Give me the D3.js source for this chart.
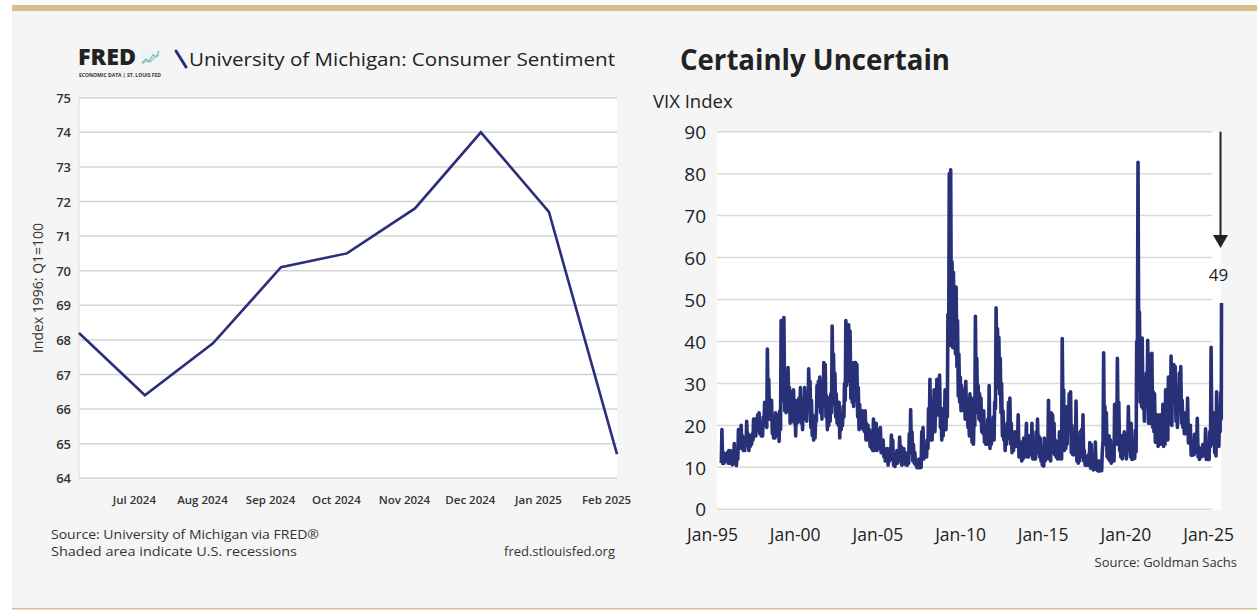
<!DOCTYPE html>
<html><head><meta charset="utf-8">
<script src="https://cdn.jsdelivr.net/npm/d3@7"></script>
<style>
body{margin:0;background:#fff;}
svg{display:block;font-family:'Open Sans',sans-serif;}
</style></head>
<body><svg id="c" width="1257" height="611"></svg>
<script>
// ---------- Left chart data (FRED: UMich Consumer Sentiment) ----------
const umMonths = ["2024-06","2024-07","2024-08","2024-09","2024-10","2024-11","2024-12","2025-01","2025-02"];
const umValues = [68.2, 66.4, 67.9, 70.1, 70.5, 71.8, 74.0, 71.7, 64.7];
const umYTicks = [64,65,66,67,68,69,70,71,72,73,74,75];
const umXTickLabels = ["Jul 2024","Aug 2024","Sep 2024","Oct 2024","Nov 2024","Dec 2024","Jan 2025","Feb 2025"];

// ---------- Right chart data (VIX, monthly high / low closes, Jan-1995 .. Apr-2025) ----------
const vixHigh = [
 19.0,13.5,13.2,12.8,13.5,14.0,14.0,13.8,13.9,15.7,13.5,13.0, // 1995
 19.0,18.5,20.0,17.5,16.0,16.5,21.0,18.0,17.5,17.0,18.0,21.5, // 1996
 21.5,21.0,22.5,23.0,20.5,20.5,22.0,25.5,24.0,38.2,31.0,25.5, // 1997
 26.0,21.0,19.5,23.0,21.5,22.5,23.5,45.0,44.5,45.7,30.0,28.5, // 1998
 33.8,29.0,27.5,28.0,28.5,26.0,23.5,26.0,26.5,29.0,25.0,26.0, // 1999
 29.0,26.5,26.5,33.5,30.5,26.0,22.5,21.0,21.5,29.5,30.5,31.5, // 2000
 29.5,30.5,35.0,34.5,27.0,24.5,26.5,27.5,43.7,37.0,32.5,27.5, // 2001
 25.0,25.5,22.0,22.0,24.5,30.0,45.0,40.0,44.0,42.5,35.0,33.5, // 2002
 35.0,35.0,34.5,29.0,25.0,23.0,23.5,22.5,23.5,20.5,20.0,19.0, // 2003
 18.5,17.5,21.5,17.5,20.5,16.5,19.0,19.5,15.5,16.5,14.5,14.0, // 2004
 14.5,12.5,14.5,17.7,16.5,12.5,11.5,14.0,13.0,17.2,15.0,12.5, // 2005
 14.5,13.5,12.5,12.5,18.0,23.8,18.5,15.5,13.5,11.5,11.5,12.0, // 2006
 12.0,18.5,19.5,14.5,14.0,16.5,24.0,31.0,26.0,22.5,28.5,23.0, // 2007
 31.0,28.5,32.0,24.0,20.0,24.0,28.5,24.5,46.5,80.0,80.9,59.0, // 2008
 56.5,52.5,53.0,45.0,37.0,31.5,29.5,28.5,27.0,30.5,26.5,23.0, // 2009
 27.5,26.5,18.0,22.5,46.0,36.0,29.5,27.5,26.5,23.5,23.5,18.5, // 2010
 20.0,21.5,29.5,17.5,18.5,22.0,25.5,48.0,43.0,41.0,36.0,30.0, // 2011
 23.5,19.5,17.5,20.5,25.5,26.5,20.5,18.5,17.5,18.5,18.0,22.5, // 2012
 14.5,16.0,14.5,17.0,16.5,20.5,16.0,17.5,17.5,20.5,13.5,16.0, // 2013
 18.5,21.5,17.5,17.0,13.5,12.5,17.0,16.5,16.5,26.0,14.0,23.0, // 2014
 22.5,20.5,16.5,16.0,14.5,18.5,17.0,40.7,28.5,24.5,20.5,24.5, // 2015
 27.5,28.0,20.0,16.0,16.0,25.8,16.5,14.0,18.5,19.0,22.5,14.0, // 2016
 12.5,12.0,13.0,15.9,15.5,11.5,11.5,16.0,11.5,11.5,11.5,11.5, // 2017
 13.5,37.3,24.5,23.0,16.0,17.5,16.5,14.5,13.5,25.0,21.5,36.0, // 2018
 25.5,16.5,17.5,13.5,18.5,18.0,16.0,24.5,18.0,20.5,13.0,16.0, // 2019
 18.8,40.0,82.7,47.0,35.0,40.8,30.5,26.5,32.5,40.3,37.0,25.0, // 2020
 37.2,28.0,27.5,20.0,22.5,18.5,22.5,21.5,25.0,21.0,28.5,27.0, // 2021
 31.5,30.5,36.5,33.5,34.5,34.0,28.0,26.0,32.5,34.0,26.0,23.0, // 2022
 23.0,22.5,26.5,19.5,20.0,15.5,15.0,17.9,18.0,21.7,15.0,13.5, // 2023
 14.5,15.5,13.5,19.2,13.5,13.0,18.5,38.6,20.5,23.0,21.0,28.0, // 2024
 22.0,21.0,27.9,49.2                                          // 2025
];
const vixLow = [
 11.0,10.9,11.0,11.5,11.6,11.0,11.0,11.2,10.6,11.8,10.9,10.4, // 1995
 12.0,14.5,16.0,14.5,14.0,14.0,15.5,15.5,14.0,15.0,15.5,16.5, // 1996
 18.0,17.5,19.0,20.0,18.0,17.5,17.5,20.0,20.5,19.5,23.0,21.5, // 1997
 21.5,18.0,17.0,17.0,17.5,19.5,16.2,19.0,28.5,26.0,23.5,23.0, // 1998
 24.0,23.5,20.5,21.0,21.5,20.5,17.5,20.5,21.5,21.0,20.5,19.0, // 1999
 21.5,22.5,21.0,24.0,24.0,19.5,17.6,16.5,17.0,21.0,25.0,24.5, // 2000
 23.0,21.5,26.0,24.5,22.0,19.0,20.0,21.0,23.0,29.0,25.0,22.0, // 2001
 20.5,20.0,17.0,19.0,20.0,22.0,26.0,29.5,31.0,30.5,26.5,25.5, // 2002
 24.5,29.0,26.0,22.0,19.0,19.5,19.5,19.0,18.5,16.5,16.5,16.5, // 2003
 15.0,14.5,14.0,14.0,15.0,14.0,14.5,14.5,13.5,14.0,12.5,11.5, // 2004
 11.5,10.5,11.5,12.0,12.5,10.5,10.2,11.5,11.0,12.5,11.5,10.5, // 2005
 10.8,11.0,10.6,10.5,11.0,14.5,13.5,11.5,11.0,10.6,9.9,10.0,  // 2006
 9.9,10.0,12.5,12.0,12.5,12.5,14.5,19.5,16.5,16.5,18.5,18.5,  // 2007
 22.5,22.5,23.5,19.5,16.5,17.5,22.0,19.0,22.0,39.0,47.5,39.0, // 2008
 38.5,39.5,37.0,34.0,27.0,25.5,23.5,24.5,23.5,21.5,21.5,19.5, // 2009
 17.5,19.5,16.0,15.5,20.0,26.0,23.0,21.5,21.0,18.5,18.0,16.0, // 2010
 15.5,15.5,16.5,14.5,15.5,16.5,16.5,24.0,31.0,29.0,27.5,23.0, // 2011
 17.5,16.5,14.0,15.5,17.5,17.0,15.5,13.5,14.0,15.0,15.0,15.5, // 2012
 12.5,12.5,11.5,12.0,12.5,15.5,12.5,12.5,13.5,13.0,12.0,12.0, // 2013
 12.0,13.5,14.0,12.5,11.5,10.5,10.3,11.5,12.0,14.0,12.0,11.5, // 2014
 16.0,13.5,13.0,12.5,12.0,12.5,12.0,12.0,20.5,14.0,14.5,15.5, // 2015
 18.5,19.0,13.5,13.0,13.0,13.5,11.5,11.0,11.5,12.5,12.5,11.5, // 2016
 10.5,10.5,11.0,10.5,9.8,9.8,9.4,10.0,9.5,9.2,9.1,9.2,        // 2017
 9.2,16.5,15.5,15.5,12.5,12.0,11.5,11.0,11.5,11.5,16.5,15.5,  // 2018
 16.5,14.0,12.5,12.0,13.0,14.0,12.0,16.0,14.0,12.5,11.9,12.0, // 2019
 12.1,13.7,39.0,31.0,25.5,24.5,24.0,21.0,25.0,25.5,20.5,20.5, // 2020
 21.0,19.5,18.5,16.0,16.5,15.0,16.0,15.5,16.0,15.0,15.5,16.5, // 2021
 16.5,21.5,20.5,20.0,25.5,25.5,21.0,19.5,23.5,25.0,20.5,19.5, // 2022
 18.0,18.0,18.5,15.8,16.0,12.9,12.9,13.0,13.5,15.5,12.5,11.9, // 2023
 12.4,12.8,12.7,13.5,11.9,11.9,11.9,15.0,15.5,18.0,13.5,12.7, // 2024
 15.0,15.0,18.5,21.5                                          // 2025
];
const vixYTicks = [0,10,20,30,40,50,60,70,80,90];
const vixXTickYears = [1995,2000,2005,2010,2015,2020,2025];
const vixLastLabel = "49";

// ---------- drawing ----------
const svg = d3.select("#c");
const GOLD = "#d6be88", BG = "#f5f5f5", NAVY = "#283078", INK = "#222";

svg.append("rect").attr("x",12).attr("y",5).attr("width",1245).attr("height",603).attr("fill",BG);
svg.append("rect").attr("x",12).attr("y",5).attr("width",1245).attr("height",6).attr("fill",GOLD);
svg.append("rect").attr("x",12).attr("y",608).attr("width",1245).attr("height",1.5).attr("fill",GOLD);

// ===== Left: FRED =====
const L = {x0:79, x1:617, y0:97.7, y1:478.3};
const parseM = d3.timeParse("%Y-%m");
const umData = umMonths.map((m,i)=>({d:parseM(m), v:umValues[i]}));
const lx = d3.scaleTime().domain(d3.extent(umData,d=>d.d)).range([L.x0,L.x1]);
const ly = d3.scaleLinear().domain([64,75]).range([L.y1,L.y0]);

svg.append("rect").attr("x",L.x0).attr("y",L.y0).attr("width",L.x1-L.x0).attr("height",L.y1-L.y0).attr("fill","#fff");
const lg = svg.append("g");
lg.selectAll("line.g").data(umYTicks).join("line")
  .attr("x1",L.x0).attr("x2",L.x1).attr("y1",d=>ly(d)).attr("y2",d=>ly(d))
  .attr("stroke","#d4d4d4").attr("stroke-width",1.5);
lg.append("line").attr("x1",L.x0).attr("x2",L.x0).attr("y1",L.y0).attr("y2",L.y1).attr("stroke","#e2e2e2").attr("stroke-width",1.2);

const lyAxis = svg.append("g").attr("transform",`translate(${L.x0-5},0)`)
  .call(d3.axisLeft(ly).tickValues(umYTicks).tickSize(0).tickFormat(d3.format("d")));
lyAxis.select(".domain").remove();
lyAxis.selectAll("text").attr("font-family","'Open Sans',sans-serif").attr("font-size",13).attr("font-weight",600).attr("fill","#333").attr("dy","0.35em");

const lxTicks = umData.slice(1).map(d=>d.d);
const lxAxis = svg.append("g").attr("transform",`translate(0,${L.y1})`)
  .call(d3.axisBottom(lx).tickValues(lxTicks).tickSize(0).tickFormat((d,i)=>umXTickLabels[i]));
lxAxis.select(".domain").remove();
lxAxis.selectAll("text").attr("font-family","'Open Sans',sans-serif").attr("font-size",11.5).attr("font-weight",600).attr("fill","#333")
  .attr("dx",-11).attr("y",26).attr("dy",0);

svg.append("path").datum(umData)
  .attr("d",d3.line().x(d=>lx(d.d)).y(d=>ly(d.v)))
  .attr("fill","none").attr("stroke","#2b2e7c").attr("stroke-width",2.6).attr("stroke-linejoin","miter");

svg.append("text").attr("transform","translate(43,288) rotate(-90)").attr("text-anchor","middle")
  .attr("font-size",14).attr("fill","#333").text("Index 1996: Q1=100");

// FRED logo
svg.append("text").attr("x",78).attr("y",65).attr("font-family","'Open Sans',sans-serif").attr("font-weight",800)
  .attr("font-size",22).attr("fill","#222").attr("textLength",58).attr("lengthAdjust","spacingAndGlyphs").text("FRED");
const ic = svg.append("g").attr("transform","translate(141,49)");
ic.append("rect").attr("width",19).attr("height",16).attr("fill","#eef3f7");
ic.append("polyline").attr("points","1,14 5,10 8,12 12,6 15,8 18,2").attr("fill","none").attr("stroke","#7fb3d5").attr("stroke-width",1.3);
ic.append("polyline").attr("points","1,15 5,12 9,13 13,9 18,6").attr("fill","none").attr("stroke","#9ccf8f").attr("stroke-width",1.3);
svg.append("text").attr("x",79).attr("y",77).attr("font-size",4.6).attr("font-weight",700).attr("fill","#333")
  .attr("textLength",82).attr("lengthAdjust","spacingAndGlyphs").text("ECONOMIC DATA  |  ST. LOUIS FED");
svg.append("line").attr("x1",176).attr("y1",51).attr("x2",186).attr("y2",67).attr("stroke","#2b2e7c").attr("stroke-width",3).attr("stroke-linecap","round");
svg.append("text").attr("x",189).attr("y",66).attr("font-size",19).attr("fill",INK)
  .attr("textLength",426).attr("lengthAdjust","spacingAndGlyphs").text("University of Michigan: Consumer Sentiment");

svg.append("text").attr("x",51).attr("y",539).attr("font-size",12.2).attr("fill","#333")
  .attr("textLength",268).attr("lengthAdjust","spacingAndGlyphs").text("Source: University of Michigan via FRED®");
svg.append("text").attr("x",51).attr("y",556).attr("font-size",12.2).attr("fill","#333")
  .attr("textLength",246).attr("lengthAdjust","spacingAndGlyphs").text("Shaded area indicate U.S. recessions");
svg.append("text").attr("x",615).attr("y",556).attr("text-anchor","end").attr("font-size",13).attr("fill","#333").text("fred.stlouisfed.org");

// ===== Right: VIX =====
const R = {px0:717, px1:1221, gx1:1212, y0:131.7, y1:509.3, dx0:721, dx1:1221.5};
const vixPts = [];
vixHigh.forEach((h,i)=>{
  const y = 1995 + Math.floor(i/12), m = i%12;
  const last = i === vixHigh.length-1;
  vixPts.push({d:new Date(y,m,last?3:8), v:vixLow[i]});
  vixPts.push({d:new Date(y,m,last?8:21), v:h});
});
const rx = d3.scaleTime().domain([new Date(1995,0,1), vixPts[vixPts.length-1].d]).range([R.dx0,R.dx1]);
const ry = d3.scaleLinear().domain([0,90]).range([R.y1,R.y0]);

svg.append("rect").attr("x",R.px0).attr("y",R.y0).attr("width",R.px1-R.px0).attr("height",R.y1-R.y0+1).attr("fill","#fff");
svg.append("g").selectAll("line").data(vixYTicks).join("line")
  .attr("x1",R.px0).attr("x2",R.gx1).attr("y1",d=>ry(d)).attr("y2",d=>ry(d))
  .attr("stroke","#d9d9d9").attr("stroke-width",1.5);

const ryAxis = svg.append("g").attr("transform",`translate(${R.px0-8},0)`)
  .call(d3.axisLeft(ry).tickValues(vixYTicks).tickSize(0));
ryAxis.select(".domain").remove();
ryAxis.selectAll("text").attr("font-family","'Open Sans',sans-serif").attr("font-size",19).attr("fill",INK).attr("dy","0.35em");

const rxAxis = svg.append("g").attr("transform",`translate(0,${R.y1})`)
  .call(d3.axisBottom(rx).tickValues(vixXTickYears.map(y=>new Date(y,0,1))).tickSize(0).tickFormat(d3.timeFormat("%b-%y")));
rxAxis.select(".domain").remove();
rxAxis.selectAll("text").attr("font-family","'Open Sans',sans-serif").attr("font-size",17.5).attr("fill",INK)
  .attr("dx",-9).attr("y",32).attr("dy",0);

svg.append("path").datum(vixPts)
  .attr("d",d3.line().x(d=>rx(d.d)).y(d=>ry(d.v)))
  .attr("fill","none").attr("stroke",NAVY).attr("stroke-width",3.6).attr("stroke-linejoin","round");

// arrow annotation
const ax = rx(vixPts[vixPts.length-1].d) - 1;
svg.append("line").attr("x1",ax).attr("x2",ax).attr("y1",ry(90)).attr("y2",ry(63.5)).attr("stroke","#222").attr("stroke-width",2);
svg.append("path").attr("d",`M${ax-7.5},${ry(65.4)} L${ax+7.5},${ry(65.4)} L${ax},${ry(62.3)} Z`).attr("fill","#222");
svg.append("text").attr("x",ax-2).attr("y",ry(54.4)).attr("text-anchor","middle").attr("font-size",17).attr("fill",INK).text(vixLastLabel);

svg.append("text").attr("x",680).attr("y",70).attr("font-size",28).attr("font-weight",700).attr("fill",INK)
  .attr("textLength",270).attr("lengthAdjust","spacingAndGlyphs").text("Certainly Uncertain");
svg.append("text").attr("x",653).attr("y",108).attr("font-size",18.5).attr("fill",INK).text("VIX Index");
svg.append("text").attr("x",1237).attr("y",567).attr("text-anchor","end").attr("font-size",13).attr("fill","#333").text("Source: Goldman Sachs");
</script></body></html>
